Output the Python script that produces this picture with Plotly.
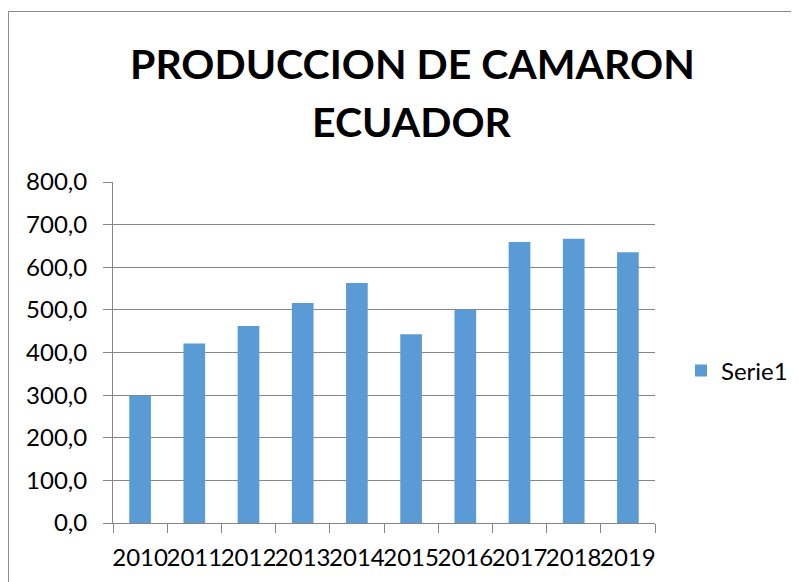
import plotly.graph_objects as go

years = ["2010", "2011", "2012", "2013", "2014", "2015", "2016", "2017", "2018", "2019"]
produccion = [298, 421, 462, 516, 563, 443, 501, 659, 667, 635]
series_name = "Serie1"
title_lines = ["PRODUCCION DE CAMARON", "ECUADOR"]
y_ticks = [0, 100, 200, 300, 400, 500, 600, 700, 800]

OFF = 8  # browser body margin
W, H = 799 - OFF, 582 - OFF
# plot area in viewport pixels
L, R, T, B = 113, 655, 182, 523
l, r, t, b = L - OFF, R - OFF, T - OFF, B - OFF

def px(x):
    return (x - L) / (R - L)

def py(y):
    return (B - y) / (B - T)

FONT = "Lato"
fig = go.Figure()
fig.add_trace(go.Bar(x=years, y=produccion, name=series_name,
                     marker=dict(color="#5B9BD5", line=dict(width=0)),
                     showlegend=True))

fig.update_layout(
    width=W, height=H,
    margin=dict(l=l, r=W - r, t=t, b=H - b, pad=0, autoexpand=False),
    paper_bgcolor="white", plot_bgcolor="white",
    separators=",.",
    bargap=0.6,
    font=dict(family=FONT, color="#000000", size=24),
    showlegend=True,
    legend=dict(x=px(793), y=py(371), xanchor="right", yanchor="middle",
                itemwidth=30,
                font=dict(size=24, family=FONT), bgcolor="rgba(0,0,0,0)"),
    xaxis=dict(type="category", tickangle=0, showgrid=False,
               showline=True, linecolor="#868686", linewidth=1,
               ticks="outside", ticklen=9, tickcolor="#868686",
               tickson="boundaries", ticklabelstandoff=13,
               tickfont=dict(size=24, family=FONT)),
    yaxis=dict(range=[0, 800], tickvals=y_ticks, tickformat=".1f",
               showgrid=True, gridcolor="#868686", gridwidth=1,
               showline=True, linecolor="#868686", linewidth=1,
               ticks="outside", ticklen=9, tickcolor="#868686",
               ticklabelstandoff=11,
               zeroline=False, tickfont=dict(size=24, family=FONT)),
    shapes=[dict(type="rect", xref="paper", yref="paper",
                 x0=px(8.5), x1=px(806), y0=py(11.5), y1=py(590),
                 line=dict(color="#8c8c8c", width=1), layer="below")],
    annotations=[
        dict(text="<b>%s</b>" % title_lines[0], xref="paper", yref="paper",
             x=px(412), y=py(63), xanchor="center", yanchor="middle",
             showarrow=False, font=dict(size=41, family=FONT)),
        dict(text="<b>%s</b>" % title_lines[1], xref="paper", yref="paper",
             x=px(412), y=py(122), xanchor="center", yanchor="middle",
             showarrow=False, font=dict(size=41, family=FONT)),
    ],
)

fig.write_html("out.html")
